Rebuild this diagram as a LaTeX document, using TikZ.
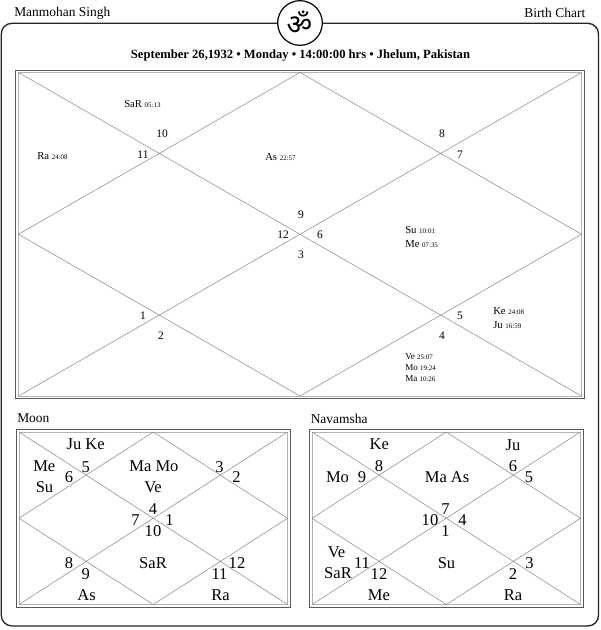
\documentclass[tikz,border=0pt]{standalone}
\usepackage{fontspec}
\setmainfont{Liberation Serif}
\newfontfamily\omfont[Script=Devanagari]{Noto Sans}
\usetikzlibrary{calc}
\newcommand{\fs}[1]{\fontsize{#1}{#1}\selectfont}
\newcommand{\dgr}[1]{{\fs{5.2}#1}}
\newcommand{\kundli}[9]{%
 \draw[boxline] (#2,#3) rectangle (#4,#5);
 \draw[innerline] (#6,#7) rectangle (#8,#9);
 \coordinate (#1tl) at (#6,#7); \coordinate (#1tr) at (#8,#7);
 \coordinate (#1bl) at (#6,#9); \coordinate (#1br) at (#8,#9);
 \coordinate (#1t) at ($(#1tl)!.5!(#1tr)$); \coordinate (#1b) at ($(#1bl)!.5!(#1br)$);
 \coordinate (#1l) at ($(#1tl)!.5!(#1bl)$); \coordinate (#1r) at ($(#1tr)!.5!(#1br)$);
 \draw[chartline] (#1tl) -- (#1br) (#1tr) -- (#1bl)
   (#1t) -- (#1r) -- (#1b) -- (#1l) -- cycle;
}
\tikzset{x=0.75pt,y=-0.75pt,
 boxline/.style={draw=black!65,line width=0.7pt},
 innerline/.style={draw=black!30,line width=0.6pt},
 chartline/.style={draw=black!45,line width=0.4pt},
 big/.style={inner sep=0pt,font=\fs{12.4}},
 small/.style={inner sep=0pt,font=\fs{8.6}},
 planet/.style={inner sep=0pt,anchor=west,font=\fs{8}},
 head/.style={inner sep=0pt,font=\fs{10.1}},
}
\begin{document}
\begin{tikzpicture}
\useasboundingbox (0,0) rectangle (600,630);
\fill[white] (0,0) rectangle (600,630);
\draw[line width=1pt,rounded corners=8pt,draw=black!85] (1.3,23.3) rectangle (598.5,626);
\node[circle,draw=black,line width=0.9pt,fill=white,minimum size=33.5pt,inner sep=0pt] (om) at (300,23) {};
\node[inner sep=0pt] (omt) at (299.5,23) {\omfont\fs{21}ॐ};
\node[head,anchor=west] (name) at (14,13) {Manmohan Singh};
\node[head,anchor=east] (bc) at (585.5,13) {Birth Chart};
\node[inner sep=0pt,font=\fs{9.45}\bfseries] (title) at (300.5,55) {September 26,1932 • Monday • 14:00:00 hrs • Jhelum, Pakistan};
\kundli{m}{15.5}{70}{584}{398}{18.5}{72.5}{581.5}{396}
\kundli{a}{16}{429.5}{290}{607}{19}{432}{287.5}{604.5}
\kundli{n}{309.5}{429.5}{583.5}{607}{312}{432}{580.5}{604.5}
\node[head,anchor=west] (moon) at (17,418.5) {Moon};
\node[head,anchor=west] (nav) at (310.5,418.5) {Navamsha};
% main chart
\foreach \n/\x/\y/\lab in {m1/143/316/1,m2/161/336/2,m3/301/255/3,m4/442/336/4,m5/460/316/5,m6/320/235/6,m7/460/155/7,m8/442/134/8,m9/301/215/9,m10/162/134/10,m11/143/155/11,m12/283/235/12}
 \node[small] (\n) at (\x,\y) {\lab};
\node[planet] (pa) at (124,104) {SaR \dgr{05:13}};
\node[planet] (pb) at (37,156.5) {Ra \dgr{24:08}};
\node[planet] (pc) at (265,157) {As \dgr{22:57}};
\node[planet] (pd) at (405,230) {Su \dgr{10:01}};
\node[planet] (pe) at (405,244) {Me \dgr{07:35}};
\node[planet] (pf) at (493,311) {Ke \dgr{24:08}};
\node[planet] (pg) at (493,325) {Ju \dgr{16:59}};
\node[planet,font=\fs{6.8}] (ph) at (405,357) {Ve \dgr{25:07}};
\node[planet,font=\fs{6.8}] (pi) at (405,368) {Mo \dgr{19:24}};
\node[planet,font=\fs{6.8}] (pj) at (405,379) {Ma \dgr{10:26}};
% moon chart
\foreach \n/\x/\y/\lab in {a1/85.7/444/Ju Ke,a2/44.3/466/Me,a3/44.5/487.5/Su,a4/85.7/467/5,a5/69/477/6,a6/154/466/Ma\hspace{3pt}Mo,a7/153/487/Ve,a8/219.5/467/3,a9/236.5/477.5/2,a10/153/509/4,a11/135.5/520/7,a12/169.5/520/1,a13/153/531.5/10,a14/153/563/SaR,a15/69/563/8,a16/85.7/574/9,a17/86.5/595/As,a18/219.5/574/11,a19/237/563/12,a20/220.5/595/Ra}
 \node[big] (\n) at (\x,\y) {\lab};
% navamsha chart
\foreach \n/\x/\y/\lab in {b1/379.3/444/Ke,b2/513/444.7/Ju,b3/337.5/477/Mo,b4/362/477/9,b5/379/466/8,b6/447/477/Ma\hspace{3pt}As,b7/513/466/6,b8/529/477/5,b9/445.5/509/7,b10/430/520/10,b11/462.5/520/4,b12/445.5/531/1,b13/336.5/552/Ve,b14/338/573/SaR,b15/362/563/11,b16/379/574/12,b17/446.5/563/Su,b18/379/595/Me,b19/513/574/2,b20/529.5/563/3,b21/513/595/Ra}
 \node[big] (\n) at (\x,\y) {\lab};
\end{tikzpicture}
\end{document}
